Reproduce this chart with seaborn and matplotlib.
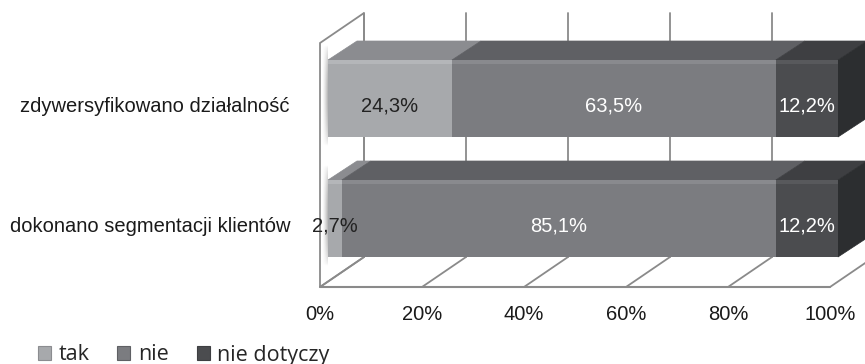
import numpy as np
import pandas as pd
import matplotlib
matplotlib.use("Agg")
import matplotlib.pyplot as plt
from matplotlib.patches import Polygon, Patch
import seaborn as sns

# ---- data -------------------------------------------------------------
categories = ["zdywersyfikowano działalność", "dokonano segmentacji klientów"]
series = ["tak", "nie", "nie dotyczy"]
tak = [24.3, 2.7]
nie = [63.5, 85.1]
nie_dotyczy = [12.2, 12.2]
value_labels = [["24,3%", "63,5%", "12,2%"], ["2,7%", "85,1%", "12,2%"]]
tick_values = [0, 20, 40, 60, 80, 100]
tick_labels = ["0%", "20%", "40%", "60%", "80%", "100%"]

# ---- styling ------------------------------------------------------------
front_col = ["#a7a9ac", "#7b7c80", "#4b4c4f"]
top_col = ["#8b8c90", "#5f6064", "#3e3f42"]
hi_col = ["#b4b6b9", "#898a8e", "#58595c"]
side_col = "#2c2e30"
text_col = ["#222222", "#ffffff", "#ffffff"]
grid_col = "#8a8a8a"
FS = 14.5

sns.set_theme(style="white")
plt.rcParams["font.family"] = ["Liberation Sans", "DejaVu Sans"]

W, H, DPI = 865, 364, 100
fig = plt.figure(figsize=(W / DPI, H / DPI), dpi=DPI)
ax = fig.add_axes([0, 0, 1, 1])

# pixel scale of the chart plane
SX = 5.1          # px per percent
X0 = 328          # px of 0% on the bar front plane
Y0 = 98.5         # px of the first category centre
SY = 120          # px between categories

def px_x(dx):
    return dx / SX

def px_y(dy):
    return dy / SY

xlim = (-X0 / SX, (W - X0) / SX)
ylim = ((H - Y0) / SY, -Y0 / SY)

# ---- walls and floor ---------------------------------------------------
wall_dx, wall_dy = px_x(44), px_y(-30)       # full depth of the box
front_shift = px_x(-8)                       # wall front vs. bar front
floor_y = px_y(287 - Y0)
wall_top = px_y(43 - Y0)

def wx(p):
    return p + front_shift

# left wall
lw_poly = Polygon([(wx(0), floor_y), (wx(0), wall_top),
                   (wx(0) + wall_dx, wall_top + wall_dy),
                   (wx(0) + wall_dx, floor_y + wall_dy)],
                  closed=True, facecolor="white", edgecolor=grid_col,
                  lw=1.3, zorder=1, clip_on=False)
ax.add_patch(lw_poly)
# back wall gridlines
for p in tick_values:
    ax.plot([wx(p) + wall_dx] * 2, [wall_top + wall_dy, floor_y + wall_dy],
            color=grid_col, lw=1.3, zorder=1, clip_on=True)
# floor
for p in tick_values:
    ax.plot([wx(p), wx(p) + wall_dx], [floor_y, floor_y + wall_dy],
            color=grid_col, lw=1.3, zorder=1)
ax.plot([wx(0), wx(100)], [floor_y, floor_y], color=grid_col, lw=1.5, zorder=1)

# soft shadow cast by the bars on the left wall
bar_h = 77 / SY
sh = np.zeros((40, 30, 4))
sh[..., :3] = 0.45
hx = np.linspace(0, 1, 30) ** 1.5
vy = np.sin(np.linspace(0, np.pi, 40)) ** 0.6
sh[..., 3] = 0.55 * vy[:, None] * hx[None, :]
for i in range(len(categories)):
    ax.imshow(sh, extent=[wx(0) + px_x(2), px_x(0), i + bar_h / 2 + px_y(10),
                          i - bar_h / 2 - px_y(16)],
              aspect="auto", zorder=1.5, interpolation="bilinear")

# ---- bars: front faces via seaborn (cumulative, drawn back to front) ----
vals = np.array([tak, nie, nie_dotyczy])            # series x category
cum = np.cumsum(vals, axis=0)
for k in [2, 1, 0]:
    df = pd.DataFrame({"kategoria": categories, "wartosc": cum[k]})
    sns.barplot(data=df, y="kategoria", x="wartosc", orient="h",
                order=categories, color=front_col[k], saturation=1,
                width=bar_h, ax=ax, zorder=3, linewidth=0)

# ---- 3D top and side faces ---------------------------------------------
bdx, bdy = px_x(29), px_y(-19)
for i in range(len(categories)):
    top = i - bar_h / 2
    bot = i + bar_h / 2
    for k in range(3):
        left = cum[k][i] - vals[k][i]
        right = cum[k][i]
        ax.add_patch(Polygon([(left, top), (left + bdx, top + bdy),
                              (right + bdx, top + bdy), (right, top)],
                             closed=True, facecolor=top_col[k],
                             edgecolor=top_col[k], lw=0.5, zorder=2.5))
        # bevel highlight along the front top edge
        ax.add_patch(Polygon([(left, top), (right, top),
                              (right, top + px_y(4)), (left, top + px_y(4))],
                             closed=True, facecolor=hi_col[k], lw=0, zorder=4))
    right = cum[2][i]
    ax.add_patch(Polygon([(right, top), (right + bdx, top + bdy),
                          (right + bdx, bot + bdy), (right, bot)],
                         closed=True, facecolor=side_col, edgecolor=side_col,
                         lw=0.5, zorder=2.5))

# ---- labels ---------------------------------------------------------------
lab_dy = px_y(8)
for i in range(len(categories)):
    for k in range(3):
        xc = cum[k][i] - vals[k][i] / 2
        ax.text(xc, i + lab_dy, value_labels[i][k], ha="center", va="center",
                fontsize=FS, color=text_col[k], zorder=5)
    ax.text(px_x(290 - X0), i + lab_dy, categories[i], ha="right",
            va="center", fontsize=FS, color="#1a1a1a")

for p, t in zip(tick_values, tick_labels):
    ax.text(wx(p), px_y(314 - Y0), t, ha="center", va="center",
            fontsize=FS, color="#1a1a1a")

ax.set_xlim(*xlim)
ax.set_ylim(*ylim)
ax.axis("off")

handles = [Patch(facecolor=front_col[k], edgecolor=top_col[k], lw=0.8)
           for k in range(3)]
fig.legend(handles, series, loc="center left",
           bbox_to_anchor=(38 / W, 1 - 355 / H), ncol=3, frameon=False,
           prop={"family": ["Open Sans", "DejaVu Sans"], "size": 15.5},
           handlelength=0.6, handleheight=0.6, handletextpad=0.35,
           columnspacing=1.3, borderpad=0, borderaxespad=0)

fig.savefig("out.png", dpi=DPI)
